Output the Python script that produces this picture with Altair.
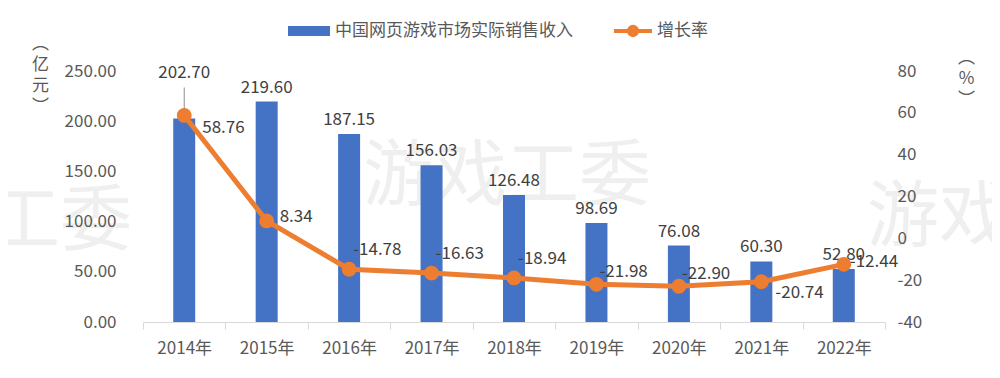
import altair as alt
import pandas as pd

# ---- data ----
years = ["2014年", "2015年", "2016年", "2017年", "2018年", "2019年", "2020年", "2021年", "2022年"]
revenue = [202.70, 219.60, 187.15, 156.03, 126.48, 98.69, 76.08, 60.30, 52.80]
growth = [58.76, 8.34, -14.78, -16.63, -18.94, -21.98, -22.90, -20.74, -12.44]
rev_name = "中国网页游戏市场实际销售收入"
growth_name = "增长率"
left_ticks = [0, 50, 100, 150, 200, 250]
right_ticks = [-40, -20, 0, 20, 40, 60, 80]

df = pd.DataFrame({"year": years, "revenue": revenue, "growth": growth})

FONT = "Noto Sans CJK SC"
BLUE = "#4472C4"
ORANGE = "#ED7D31"
LABEL = "#404040"
AXIS = "#595959"
W, H = 742, 251

xscale = alt.Scale(paddingInner=0, paddingOuter=0)
x_axis = alt.X("year:N", sort=years, scale=xscale,
               axis=alt.Axis(title=None, tickBand="extent", domainColor="#d9d9d9",
                             tickColor="#d9d9d9", tickSize=7, labelPadding=11,
                             labelFontSize=17, labelColor=AXIS, labelFont=FONT,
                             labelAngle=0, zindex=1))

lscale = alt.Scale(domain=[0, 250], nice=False)
rscale = alt.Scale(domain=[-40, 80], nice=False)

y_left = alt.Y("revenue:Q", scale=lscale,
               axis=alt.Axis(orient="left", values=left_ticks, format=".2f",
                             domain=False, ticks=False, tickSize=0, grid=False,
                             labelPadding=27, labelFontSize=17, labelColor=AXIS,
                             labelFont=FONT, zindex=1,
                             title=["︵", "亿", "元", "︶"], titleAngle=0,
                             titleX=-103, titleY=-36, titleAlign="center",
                             titleBaseline="top", titleFontSize=17,
                             titleLineHeight=21, titleColor=AXIS,
                             titleFont=FONT, titleFontWeight="normal"))

y_right = alt.Y("growth:Q", scale=rscale,
                axis=alt.Axis(orient="right", values=right_ticks,
                              labelExpr="'' + datum.value",
                              domain=False, ticks=False, tickSize=0, grid=False,
                              labelPadding=12, labelFontSize=17, labelColor=AXIS,
                              labelFont=FONT, zindex=1,
                              title=["︵", "%", "︶"], titleAngle=0,
                              titleX=81, titleY=-22, titleAlign="center",
                              titleBaseline="top", titleFontSize=17,
                              titleLineHeight=21, titleColor=AXIS,
                              titleFont=FONT, titleFontWeight="normal"))

base = alt.Chart(df)

# watermark
WM = "#efefef"
wm_center = alt.Chart(pd.DataFrame({"t": ["游戏工委"]})).mark_text(
    fontSize=72, font=FONT, color=WM, align="center", baseline="middle"
).encode(text="t:N", x=alt.value(364), y=alt.value(106))
wm_left = alt.Chart(pd.DataFrame({"t": ["工委"]})).mark_text(
    fontSize=72, font=FONT, color=WM, align="center", baseline="middle"
).encode(text="t:N", x=alt.value(-83), y=alt.value(151))
wm_right = alt.Chart(pd.DataFrame({"t": ["游戏"]})).mark_text(
    fontSize=72, font=FONT, color=WM, align="center", baseline="middle"
).encode(text="t:N", x=alt.value(796), y=alt.value(147))

bars = base.transform_calculate(s="'" + rev_name + "'").mark_bar(size=22).encode(
    x=x_axis, y=y_left,
    fill=alt.Fill("s:N", scale=alt.Scale(domain=[rev_name], range=[BLUE]),
                  legend=alt.Legend(title=None, orient="none", legendX=145, legendY=-61,
                                    symbolType="M-1,-0.24H1V0.24H-1Z", symbolSize=1764,
                                    symbolStrokeWidth=0, labelFontSize=17,
                                    labelColor=AXIS, labelFont=FONT, labelOffset=5,
                                    labelLimit=500)))

bar_labels = base.transform_filter(alt.datum.year != years[0]).mark_text(
    dy=-14, fontSize=17, font=FONT, color=LABEL, baseline="middle"
).encode(x=x_axis, y=y_left, text=alt.Text("revenue:Q", format=".2f"))

first_label = base.transform_filter(alt.datum.year == years[0]).mark_text(
    dy=-45, fontSize=17, font=FONT, color=LABEL, baseline="middle"
).encode(x=x_axis, y=y_left, text=alt.Text("revenue:Q", format=".2f"))

leader = base.transform_filter(alt.datum.year == years[0]).mark_rule(
    color="#8c8c8c", strokeWidth=1, yOffset=-9, y2Offset=-31
).encode(x=x_axis, y=y_left, y2=alt.Y2("revenue:Q"))

left = alt.layer(wm_center, wm_left, wm_right, bars, bar_labels, leader, first_label)

line = base.transform_calculate(s="'" + growth_name + "'").mark_line(
    strokeWidth=5
).encode(
    x=x_axis, y=y_right,
    stroke=alt.Stroke("s:N", scale=alt.Scale(domain=[growth_name], range=[ORANGE]),
                      legend=alt.Legend(title=None, orient="none", legendX=469, legendY=-61,
                                        symbolType="M-1,0H1M-0.22,0A0.22,0.22 0 1 1 0.22,0A0.22,0.22 0 1 1 -0.22,0",
                                        symbolSize=1444, symbolStrokeWidth=4,
                                        labelFontSize=17, labelColor=AXIS,
                                        labelFont=FONT, labelOffset=3, labelLimit=300)))

points = base.mark_circle(size=220, color=ORANGE, opacity=1).encode(x=x_axis, y=y_right)


def growth_labels(sel, dx, dy):
    return base.transform_filter(
        alt.FieldOneOfPredicate(field="year", oneOf=sel)
    ).transform_calculate(
        lab="replace(format(datum.growth, '.2f'), '\u2212', '-')"
    ).mark_text(
        dx=dx, dy=dy, align="left", baseline="middle", fontSize=17, font=FONT, color=LABEL
    ).encode(x=x_axis, y=y_right, text="lab:N")


glabels = [
    growth_labels([years[0]], 18, 13),
    growth_labels([years[1]], 13, -4),
    growth_labels(years[2:5], 4, -19),
    growth_labels(years[5:7], 3, -12),
    growth_labels([years[7]], 14, 11),
    growth_labels([years[8]], 6, -2),
]

right = alt.layer(line, points, *glabels)

chart = alt.layer(left, right).resolve_scale(y="independent", fill="independent", stroke="independent").properties(
    width=W, height=H,
    padding={"left": 135, "top": 63, "right": 107, "bottom": 48},
    autosize=alt.AutoSizeParams(type="none"),
    background="white",
).configure_view(stroke=None)

chart.save("out.html", embed_options={"renderer": "svg", "actions": False})
